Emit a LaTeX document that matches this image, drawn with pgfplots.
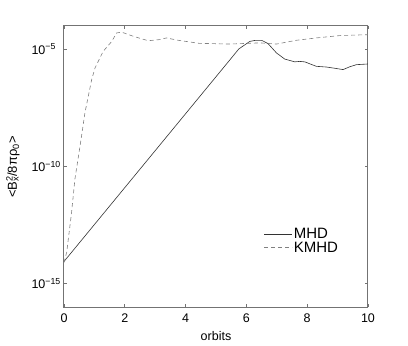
\documentclass[border=0pt]{standalone}
\usepackage{pgfplots}
\pgfplotsset{compat=1.18}
\usepackage{fontspec}
\setmainfont{Liberation Sans}

% growth of <Bx^2/8 pi rho0>
\pgfplotstableread{
x y
0    8.7e-15
5.46 3.47e-6
5.75 1.0e-5
6.11 2.09e-5
6.3  2.34e-5
6.5  2.34e-5
6.71 1.70e-5
6.99 6.76e-6
7.26 3.72e-6
7.59 2.82e-6
7.75 2.95e-6
7.92 2.82e-6
8.3  1.82e-6
8.63 1.70e-6
8.9  1.51e-6
9.18 1.32e-6
9.4  1.74e-6
9.62 2.14e-6
10   2.29e-6
}\mhd

\pgfplotstableread{
x y
0    7.9e-15
0.09 2.19e-14
0.25 1.10e-12
0.36 2.88e-11
0.53 7.59e-10
0.69 1.95e-8
0.91 4.90e-7
1.02 1.55e-6
1.29 7.94e-6
1.57 2.09e-5
1.73 4.79e-5
1.89 5.25e-5
2.28 3.47e-5
2.77 2.24e-5
3.15 2.51e-5
3.37 2.95e-5
3.76 2.34e-5
4.44 1.74e-5
5.46 1.62e-5
6.44 1.82e-5
6.99 1.62e-5
7.64 2.34e-5
8.3  2.95e-5
9.07 3.72e-5
10   4.07e-5
}\kmhd

\begin{document}
\begin{tikzpicture}
\path (0,0) rectangle (408pt,346pt);
\begin{axis}[
    at={(64pt,39pt)}, anchor=south west,
    width=304pt, height=281.5pt, scale only axis,
    ymode=log,
    xmin=0, xmax=10, ymin=1e-16, ymax=1e-4,
    xtick={0,2,...,10},
    ytick={1e-15,1e-10,1e-5},
    yticklabels={10\textsuperscript{−15},10\textsuperscript{−10},10\textsuperscript{−5}},
    yminorticks=false,
    tick align=inside,
    major tick length=3pt,
    axis line style={black!55, line width=1pt},
    tick style={black!55, line width=0.6pt},
    /pgf/number format/assume math mode=true,
    tick label style={font=\fontsize{12.5}{14}\selectfont},
    xticklabel style={yshift=-3pt},
    yticklabel style={anchor=west, xshift=-36pt},
    xlabel={orbits},
    xlabel style={at={(axis description cs:0.5,-0.102)}, anchor=center, font=\fontsize{12.5}{14}\selectfont},
    ylabel={<B\rlap{\textsuperscript{2}}\textsubscript{x}/8πρ\textsubscript{0}>},
    ylabel style={at={(axis description cs:-0.168,0.497)}, anchor=center, font=\fontsize{13}{14}\selectfont},
    legend style={draw=none, fill=none, at={(axis description cs:0.648,0.292)}, anchor=north west,
        font=\fontsize{15}{17}\selectfont, row sep=0pt, nodes={inner sep=1pt}},
    legend cell align=left,
    legend image code/.code={\draw[#1] (0pt,0pt) -- (28pt,0pt);},
]
\addplot[black!80, line width=0.6pt] table[x=x, y=y] {\mhd};
\addlegendentry{MHD}
\addplot[black!50, line width=0.6pt, dash pattern=on 4pt off 3pt] table[x=x, y=y] {\kmhd};
\addlegendentry{KMHD}
\end{axis}
\end{tikzpicture}
\end{document}
